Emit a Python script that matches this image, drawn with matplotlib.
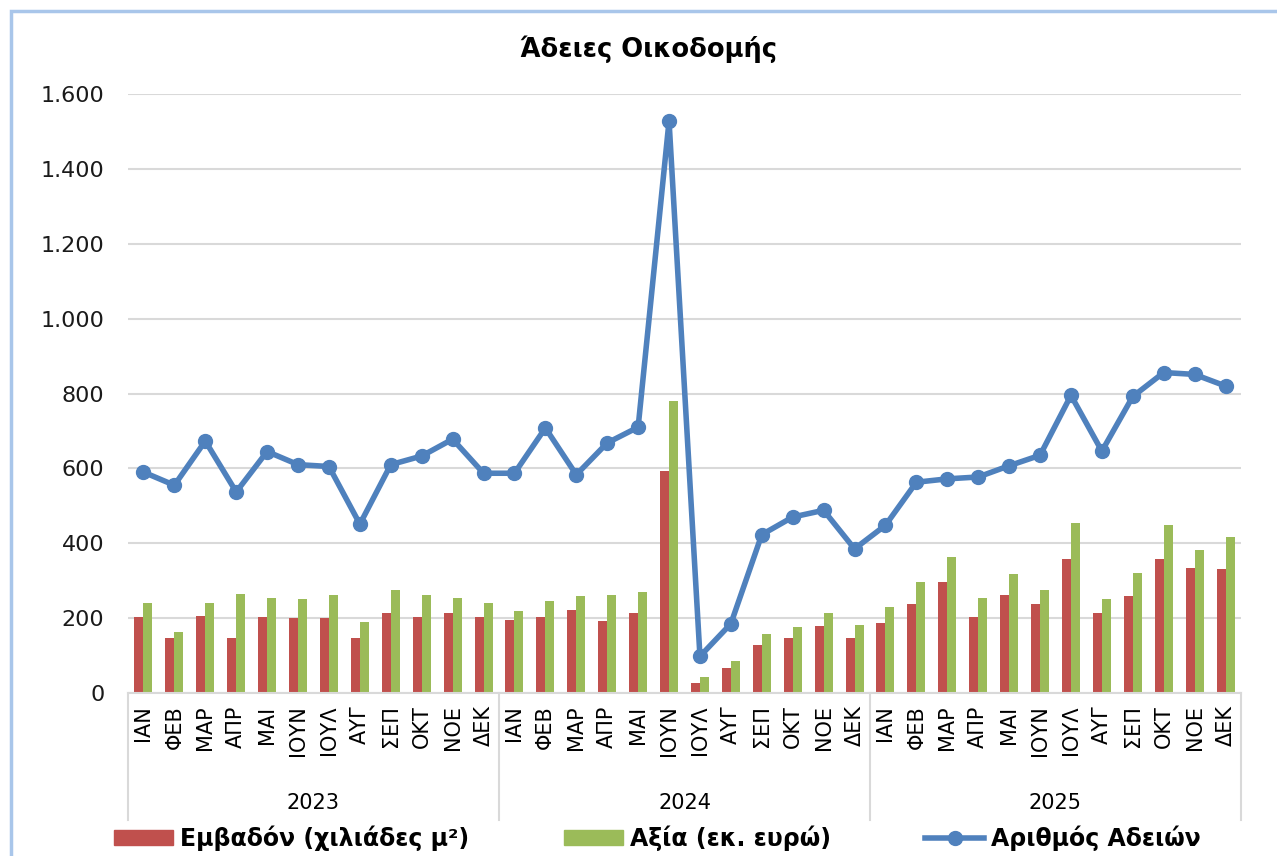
import matplotlib.pyplot as plt
import matplotlib.transforms as mtransforms
from matplotlib.patches import Rectangle
from matplotlib.lines import Line2D
from matplotlib.ticker import FuncFormatter
import numpy as np

plt.rcParams['font.family'] = ['DejaVu Sans']

# data
months = ['ΙΑΝ', 'ΦΕΒ', 'ΜΑΡ', 'ΑΠΡ', 'ΜΑΙ', 'ΙΟΥΝ', 'ΙΟΥΛ', 'ΑΥΓ', 'ΣΕΠ', 'ΟΚΤ', 'ΝΟΕ', 'ΔΕΚ']
years = ['2023', '2024', '2025']

area = [203, 148, 207, 148, 203, 200, 200, 148, 213, 203, 213, 203,
        196, 203, 223, 193, 213, 593, 28, 67, 128, 146, 180, 146,
        188, 237, 296, 203, 261, 237, 359, 213, 258, 359, 334, 331]
value = [241, 162, 241, 265, 254, 251, 261, 189, 275, 261, 254, 241,
         220, 247, 258, 261, 271, 780, 43, 86, 158, 175, 213, 182,
         230, 296, 362, 254, 317, 276, 455, 250, 321, 449, 383, 417]
permits = [590, 555, 673, 537, 645, 610, 605, 451, 610, 633, 678, 587,
           587, 708, 583, 668, 710, 1528, 98, 185, 423, 470, 488, 385,
           448, 563, 572, 577, 607, 635, 795, 646, 792, 856, 851, 820]

labels = months * len(years)
x = np.arange(len(labels))

c_red = '#C0504D'
c_green = '#9BBB59'
c_blue = '#4F81BD'
grid_c = '#D9D9D9'

fig = plt.figure(figsize=(12.77, 8.56), dpi=100)
ax = fig.add_axes([128 / 1277, 1 - 693 / 856, (1241 - 128) / 1277, (693 - 94) / 856])

w = 0.29
ax.bar(x - w / 2, area, w, color=c_red, zorder=2)
ax.bar(x + w / 2, value, w, color=c_green, zorder=2)
ax.plot(x, permits, color=c_blue, lw=4, marker='o', ms=10, zorder=3)

ax.set_xlim(-0.5, len(labels) - 0.5)
ax.set_ylim(0, 1600)
ax.set_yticks(range(0, 1601, 200))
ax.yaxis.set_major_formatter(FuncFormatter(lambda v, p: f'{int(v):,}'.replace(',', '.')))
ax.grid(axis='y', color=grid_c, lw=1.5, zorder=0)
ax.set_axisbelow(True)
for s in ['top', 'right', 'left']:
    ax.spines[s].set_visible(False)
ax.spines['bottom'].set_color(grid_c)
ax.spines['bottom'].set_linewidth(1.5)
ax.tick_params(axis='y', length=0, pad=17, labelsize=16, labelcolor='#1a1a1a')
ax.set_xticks(x)
ax.set_xticklabels(labels, rotation=90, fontsize=15)
ax.tick_params(axis='x', length=0, pad=9)

# year groups
trans = mtransforms.blended_transform_factory(ax.transData, ax.transAxes)
for b in [-0.5, 11.5, 23.5, 35.5]:
    ax.plot([b, b], [0, -0.212], transform=trans, color=grid_c, lw=1.5, clip_on=False)
for i, yr in enumerate(years):
    ax.text(i * 12 + 5.5, -0.184, yr, transform=trans, ha='center', va='center', fontsize=15)

fig.text(0.508, 0.942, 'Άδειες Οικοδομής', ha='center', va='center', fontsize=18.5, fontweight='bold')

handles = [Rectangle((0, 0), 1, 1, color=c_red),
           Rectangle((0, 0), 1, 1, color=c_green),
           Line2D([], [], color=c_blue, lw=4, marker='o', ms=10)]
fig.legend(handles, ['Εμβαδόν (χιλιάδες μ²)', 'Αξία (εκ. ευρώ)', 'Αριθμός Αδειών'],
           loc='center', bbox_to_anchor=(0.515, 0.021), ncol=3, frameon=False,
           prop={'weight': 'bold', 'size': 17}, handlelength=2.5, handleheight=0.65,
           handletextpad=0.3, columnspacing=4)

# outer border
fig.patches.append(Rectangle((11 / 1277, -0.05), 1.1, 1 - 11 / 856 + 0.05, transform=fig.transFigure,
                             fill=False, edgecolor='#A9C6EA', lw=2.5))

fig.savefig('out.png', dpi=100)
